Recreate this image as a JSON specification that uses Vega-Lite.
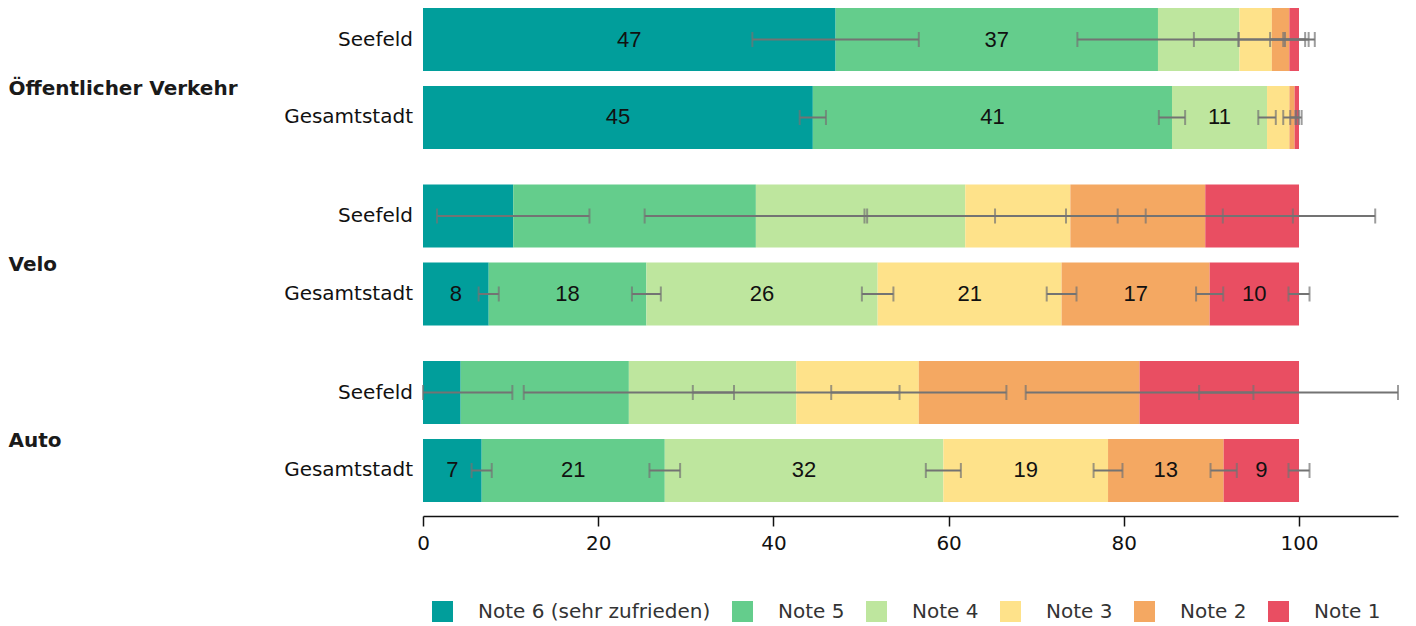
{
  "$schema": "https://vega.github.io/schema/vega-lite/v6.json",
  "padding": {"left": 8, "top": 8, "right": 0, "bottom": 0},
  "config": {"font": "DejaVu Sans", "view": {"stroke": null}},
  "width": 975,
  "height": 494,
  "data": {"values": [
    {"group": "Öffentlicher Verkehr", "row": "Seefeld", "stufe": 6, "note": "Note 6 (sehr zufrieden)", "value": 47.1, "err": 9.5, "label": "47"},
    {"group": "Öffentlicher Verkehr", "row": "Seefeld", "stufe": 5, "note": "Note 5", "value": 36.8, "err": 9.2, "label": "37"},
    {"group": "Öffentlicher Verkehr", "row": "Seefeld", "stufe": 4, "note": "Note 4", "value": 9.3, "err": 5.2, "label": ""},
    {"group": "Öffentlicher Verkehr", "row": "Seefeld", "stufe": 3, "note": "Note 3", "value": 3.7, "err": 3.8, "label": ""},
    {"group": "Öffentlicher Verkehr", "row": "Seefeld", "stufe": 2, "note": "Note 2", "value": 2.0, "err": 2.2, "label": ""},
    {"group": "Öffentlicher Verkehr", "row": "Seefeld", "stufe": 1, "note": "Note 1", "value": 1.1, "err": 1.8, "label": ""},
    {"group": "Öffentlicher Verkehr", "row": "Gesamtstadt", "stufe": 6, "note": "Note 6 (sehr zufrieden)", "value": 44.5, "err": 1.5, "label": "45"},
    {"group": "Öffentlicher Verkehr", "row": "Gesamtstadt", "stufe": 5, "note": "Note 5", "value": 41.0, "err": 1.5, "label": "41"},
    {"group": "Öffentlicher Verkehr", "row": "Gesamtstadt", "stufe": 4, "note": "Note 4", "value": 10.85, "err": 1.0, "label": "11"},
    {"group": "Öffentlicher Verkehr", "row": "Gesamtstadt", "stufe": 3, "note": "Note 3", "value": 2.55, "err": 0.7, "label": ""},
    {"group": "Öffentlicher Verkehr", "row": "Gesamtstadt", "stufe": 2, "note": "Note 2", "value": 0.6, "err": 0.5, "label": ""},
    {"group": "Öffentlicher Verkehr", "row": "Gesamtstadt", "stufe": 1, "note": "Note 1", "value": 0.5, "err": 0.3, "label": ""},
    {"group": "Velo", "row": "Seefeld", "stufe": 6, "note": "Note 6 (sehr zufrieden)", "value": 10.3, "err": 8.7, "label": ""},
    {"group": "Velo", "row": "Seefeld", "stufe": 5, "note": "Note 5", "value": 27.7, "err": 12.7, "label": ""},
    {"group": "Velo", "row": "Seefeld", "stufe": 4, "note": "Note 4", "value": 23.9, "err": 11.5, "label": ""},
    {"group": "Velo", "row": "Seefeld", "stufe": 3, "note": "Note 3", "value": 12.0, "err": 8.6, "label": ""},
    {"group": "Velo", "row": "Seefeld", "stufe": 2, "note": "Note 2", "value": 15.4, "err": 10.0, "label": ""},
    {"group": "Velo", "row": "Seefeld", "stufe": 1, "note": "Note 1", "value": 10.7, "err": 8.7, "label": ""},
    {"group": "Velo", "row": "Gesamtstadt", "stufe": 6, "note": "Note 6 (sehr zufrieden)", "value": 7.5, "err": 1.15, "label": "8"},
    {"group": "Velo", "row": "Gesamtstadt", "stufe": 5, "note": "Note 5", "value": 18.0, "err": 1.65, "label": "18"},
    {"group": "Velo", "row": "Gesamtstadt", "stufe": 4, "note": "Note 4", "value": 26.4, "err": 1.8, "label": "26"},
    {"group": "Velo", "row": "Gesamtstadt", "stufe": 3, "note": "Note 3", "value": 21.0, "err": 1.7, "label": "21"},
    {"group": "Velo", "row": "Gesamtstadt", "stufe": 2, "note": "Note 2", "value": 16.9, "err": 1.55, "label": "17"},
    {"group": "Velo", "row": "Gesamtstadt", "stufe": 1, "note": "Note 1", "value": 10.2, "err": 1.2, "label": "10"},
    {"group": "Auto", "row": "Seefeld", "stufe": 6, "note": "Note 6 (sehr zufrieden)", "value": 4.3, "err": 5.9, "label": ""},
    {"group": "Auto", "row": "Seefeld", "stufe": 5, "note": "Note 5", "value": 19.2, "err": 12.0, "label": ""},
    {"group": "Auto", "row": "Seefeld", "stufe": 4, "note": "Note 4", "value": 19.1, "err": 11.8, "label": ""},
    {"group": "Auto", "row": "Seefeld", "stufe": 3, "note": "Note 3", "value": 14.0, "err": 10.0, "label": ""},
    {"group": "Auto", "row": "Seefeld", "stufe": 2, "note": "Note 2", "value": 25.2, "err": 13.0, "label": ""},
    {"group": "Auto", "row": "Seefeld", "stufe": 1, "note": "Note 1", "value": 18.2, "err": 11.4, "label": ""},
    {"group": "Auto", "row": "Gesamtstadt", "stufe": 6, "note": "Note 6 (sehr zufrieden)", "value": 6.7, "err": 1.15, "label": "7"},
    {"group": "Auto", "row": "Gesamtstadt", "stufe": 5, "note": "Note 5", "value": 20.9, "err": 1.75, "label": "21"},
    {"group": "Auto", "row": "Gesamtstadt", "stufe": 4, "note": "Note 4", "value": 31.8, "err": 2.0, "label": "32"},
    {"group": "Auto", "row": "Gesamtstadt", "stufe": 3, "note": "Note 3", "value": 18.8, "err": 1.65, "label": "19"},
    {"group": "Auto", "row": "Gesamtstadt", "stufe": 2, "note": "Note 2", "value": 13.2, "err": 1.5, "label": "13"},
    {"group": "Auto", "row": "Gesamtstadt", "stufe": 1, "note": "Note 1", "value": 8.6, "err": 1.2, "label": "9"}
  ]},
  "transform": [
    {"stack": "value", "groupby": ["group", "row"], "sort": [{"field": "stufe", "order": "descending"}], "as": ["x0", "x1"]}
  ],
  "encoding": {
    "y": {
      "field": "group", "type": "nominal", "sort": ["Öffentlicher Verkehr", "Velo", "Auto"],
      "scale": {"paddingInner": 0.2011, "paddingOuter": 0},
      "axis": {"title": null, "ticks": false, "domain": false, "labelFontSize": 20, "labelFontWeight": "bold",
        "labelAlign": "left", "labelBaseline": "top", "labelPadding": 415, "labelColor": "#1a1a1a", "labelLimit": 400}
    },
    "yOffset": {
      "field": "row", "type": "nominal", "sort": ["Seefeld", "Gesamtstadt"],
      "scale": {"paddingInner": 0.192, "paddingOuter": 0}
    }
  },
  "layer": [
    {
      "mark": {"type": "bar"},
      "encoding": {
        "x": {"field": "x0", "type": "quantitative",
          "scale": {"domain": [0, 111.3], "nice": false, "clamp": true},
          "axis": {"title": null, "values": [0, 20, 40, 60, 80, 100], "grid": false, "offset": 14, "labelFlush": false,
            "tickSize": 10, "tickColor": "#111", "tickWidth": 1.5, "domainColor": "#111", "domainWidth": 1.5,
            "labelFontSize": 20, "labelPadding": 7, "labelColor": "#111"}},
        "x2": {"field": "x1"},
        "color": {"field": "note", "type": "nominal",
          "sort": ["Note 6 (sehr zufrieden)", "Note 5", "Note 4", "Note 3", "Note 2", "Note 1"],
          "scale": {"domain": ["Note 6 (sehr zufrieden)", "Note 5", "Note 4", "Note 3", "Note 2", "Note 1"],
            "range": ["#019e9b", "#64cd8c", "#bee69e", "#fee28a", "#f4a862", "#e94e62"]},
          "legend": {"title": null, "orient": "none", "legendX": 9, "legendY": 593, "direction": "horizontal", "symbolType": "square",
            "symbolSize": 441, "symbolStrokeWidth": 0, "labelFontSize": 20, "labelColor": "#333", "labelLimit": 0,
            "labelOffset": 25, "columnPadding": 21}}
      }
    },
    {
      "transform": [
        {"fold": ["x0", "x1"], "as": ["edge", "pos"]},
        {"aggregate": [{"op": "mean", "field": "pos", "as": "mid"}], "groupby": ["group", "row", "note", "label"]}
      ],
      "mark": {"type": "text", "font": "Liberation Sans", "fontSize": 22, "color": "#111", "baseline": "middle", "align": "center"},
      "encoding": {
        "x": {"field": "mid", "type": "quantitative"},
        "text": {"field": "label"}
      }
    },
    {
      "transform": [
        {"aggregate": [{"op": "count", "as": "n"}], "groupby": ["group", "row"]}
      ],
      "mark": {"type": "text", "fontSize": 20, "color": "#111", "baseline": "middle", "align": "right", "dx": -10},
      "encoding": {
        "x": {"datum": 0, "type": "quantitative"},
        "text": {"field": "row"}
      }
    },
    {
      "mark": {"type": "errorbar", "ticks": true, "color": "#737373", "thickness": 2, "size": 15},
      "encoding": {
        "x": {"field": "x1", "type": "quantitative"},
        "xError": {"field": "err"}
      }
    }
  ]
}
